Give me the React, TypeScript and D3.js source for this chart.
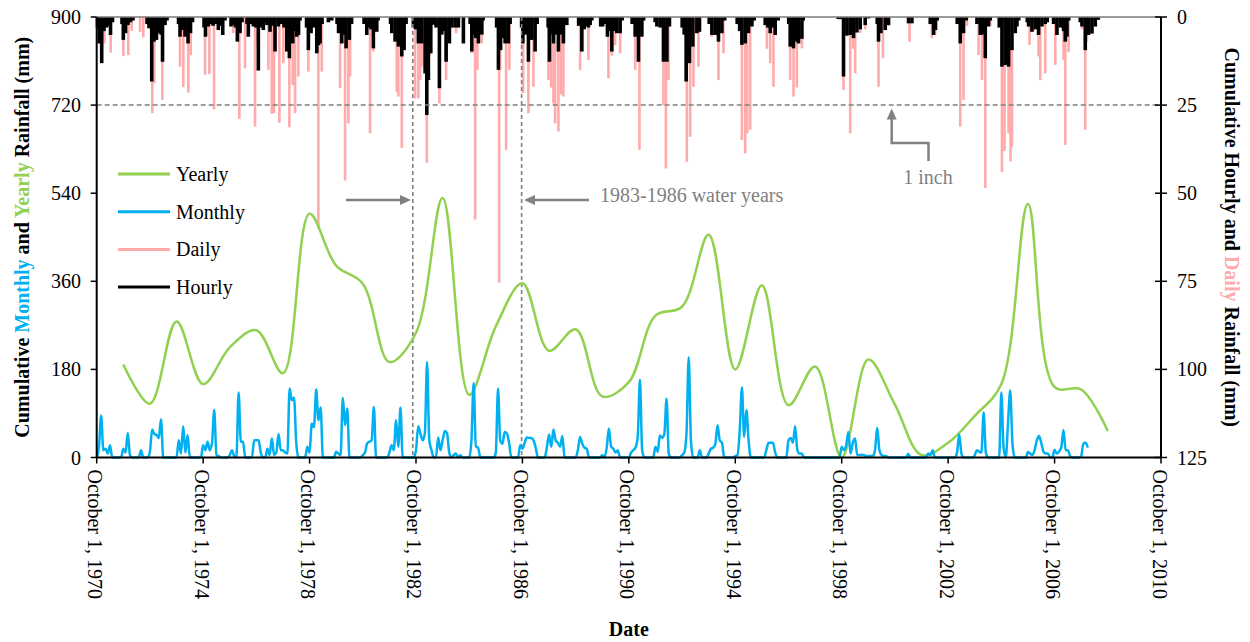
import React from 'react';
import * as d3 from 'd3';

// ---------- DATA ----------
// time unit: years since October 1, 1970 (water-year start)
const xTickYears = [1970, 1974, 1978, 1982, 1986, 1990, 1994, 1998, 2002, 2006, 2010];
const leftTicks = [0, 180, 360, 540, 720, 900];
const rightTicks = [0, 25, 50, 75, 100, 125];

// Yearly cumulative rainfall (mm), plotted at October 1 closing each water year
const yearlyYears = [1971, 1972, 1973, 1974, 1975, 1976, 1977, 1978, 1979, 1980, 1981, 1982, 1983, 1984, 1985, 1986, 1987, 1988, 1989, 1990, 1991, 1992, 1993, 1994, 1995, 1996, 1997, 1998, 1999, 2000, 2001, 2002, 2003, 2004, 2005, 2006, 2007, 2008];
const yearlyValues = [190, 110, 278, 150, 225, 260, 172, 498, 392, 355, 195, 255, 530, 128, 268, 356, 218, 262, 125, 154, 290, 308, 455, 180, 352, 107, 186, 0, 200, 108, 5, 30, 85, 150, 518, 144, 139, 54];

// Monthly cumulative rainfall (mm), Oct..Sep of each water year, starting WY1971
const monthlyStartWY = 1971;
const monthlyByWY = [
  [0, 20, 86, 15, 18, 8, 25, 0, 0, 0, 0, 0],
  [18, 10, 50, 5, 0, 0, 0, 0, 15, 0, 0, 0],
  [12, 57, 48, 46, 40, 78, 0, 0, 0, 0, 0, 0],
  [0, 35, 8, 64, 10, 46, 0, 0, 0, 0, 0, 0],
  [25, 15, 32, 15, 30, 97, 5, 3, 0, 0, 0, 0],
  [5, 15, 3, 0, 133, 32, 32, 0, 0, 0, 0, 35],
  [35, 35, 10, 0, 0, 18, 5, 39, 5, 10, 48, 15],
  [15, 10, 8, 141, 117, 122, 30, 0, 0, 0, 0, 22],
  [10, 69, 62, 139, 76, 102, 0, 0, 0, 0, 0, 0],
  [12, 8, 5, 122, 66, 100, 0, 0, 0, 0, 0, 0],
  [5, 10, 29, 32, 35, 103, 0, 0, 0, 0, 0, 0],
  [10, 25, 15, 76, 22, 102, 0, 0, 0, 0, 0, 0],
  [15, 64, 49, 35, 50, 195, 35, 15, 0, 0, 41, 15],
  [35, 54, 50, 10, 0, 5, 8, 0, 5, 0, 0, 0],
  [0, 35, 152, 23, 20, 0, 0, 0, 0, 0, 0, 0],
  [10, 141, 35, 28, 52, 49, 30, 0, 0, 0, 0, 25],
  [18, 30, 41, 40, 40, 35, 20, 0, 0, 0, 0, 20],
  [47, 22, 57, 35, 30, 22, 44, 0, 0, 0, 0, 0],
  [0, 15, 42, 28, 20, 18, 0, 0, 0, 0, 0, 0],
  [5, 0, 20, 59, 22, 18, 10, 15, 0, 0, 0, 0],
  [0, 10, 15, 20, 42, 159, 15, 0, 0, 0, 0, 0],
  [22, 12, 45, 40, 48, 120, 8, 0, 0, 0, 0, 0],
  [5, 10, 50, 205, 35, 0, 0, 0, 15, 0, 0, 0],
  [8, 18, 20, 28, 66, 35, 30, 0, 0, 0, 0, 0],
  [3, 5, 55, 143, 42, 97, 35, 0, 0, 0, 0, 0],
  [0, 0, 15, 30, 30, 30, 10, 0, 0, 0, 0, 0],
  [35, 40, 30, 64, 15, 8, 8, 0, 0, 0, 0, 0],
  [0, 0, 0, 0, 0, 0, 0, 0, 0, 0, 0, 0],
  [22, 15, 25, 52, 8, 30, 39, 5, 5, 5, 5, 3],
  [3, 3, 3, 15, 61, 15, 5, 3, 3, 0, 0, 0],
  [0, 0, 0, 0, 0, 0, 7, 0, 0, 0, 0, 0],
  [0, 0, 0, 8, 5, 15, 0, 0, 0, 0, 0, 0],
  [0, 0, 0, 0, 10, 47, 8, 0, 0, 0, 0, 0],
  [5, 15, 12, 10, 92, 10, 0, 0, 0, 0, 0, 0],
  [133, 20, 0, 70, 137, 30, 0, 0, 0, 0, 0, 0],
  [11, 8, 5, 15, 35, 44, 30, 12, 8, 8, 0, 0],
  [16, 8, 12, 20, 56, 15, 15, 3, 0, 0, 0, 0],
  [3, 28, 30, 20],
];

// Daily rainfall events: [years since Oct 1 1970, mm]
const dailyRain: [number, number][] = [
  [0.124, 7.5], [0.286, 7.5], [0.526, 10.1], [1.0, 11.1], [1.188, 10.8], [1.316, 3.9], [1.628, 4.2], [1.752, 5.8],
  [2.09, 27.3], [2.165, 18.8], [2.466, 23.5], [3.132, 14.1], [3.256, 19.9], [3.444, 21.5], [3.534, 10.8],
  [4.071, 16.4], [4.233, 16.2], [4.41, 26.2], [5.135, 4.6], [5.361, 28.9], [5.575, 14.6], [5.951, 31.1], [6.015, 8.4],
  [6.451, 15], [6.579, 27.5], [6.665, 27.3], [6.865, 30], [7.015, 13.1], [7.241, 31.3], [7.368, 19.3], [7.455, 27.3], [7.579, 16.9],
  [7.955, 15.5], [8.331, 59.9], [8.459, 15.5], [9.147, 20.2], [9.335, 46.4], [9.459, 30.2], [9.523, 16.9],
  [10.274, 33], [10.398, 9.8], [11.278, 21.2], [11.338, 22.6], [11.466, 37.2],
  [11.966, 23.1], [12.09, 23.1], [12.154, 17.9], [12.218, 14.1], [12.406, 41.4], [12.53, 10.8], [12.88, 24.5], [13.008, 3.7], [13.132, 17.9], [13.508, 4.6],
  [14.098, 10.3], [14.222, 57.5], [14.308, 15], [14.474, 7.5], [15.124, 75.4], [15.162, 15], [15.387, 37.7], [15.511, 15],
  [16.026, 21.6], [16.226, 27.3], [16.414, 19.8], [16.977, 17.9], [17.079, 20], [17.165, 24.5], [17.229, 30.2], [17.353, 32.5], [17.455, 22], [17.541, 22.6],
  [18.169, 15], [18.481, 12.2], [19.233, 17.4], [19.361, 11], [19.485, 8], [19.673, 10.3], [20.237, 15], [20.398, 37.7],
  [21.301, 25], [21.391, 43], [21.489, 17.9], [22.18, 41.1], [22.305, 34], [22.429, 19.8], [22.617, 14.1],
  [23.12, 5.6], [23.368, 17.9], [23.556, 10.3], [24.248, 34.9], [24.372, 38.7], [24.447, 33], [24.56, 32],
  [25.188, 9], [25.312, 13.1], [25.436, 19.8], [26.064, 17.9], [26.188, 22.6], [26.316, 20], [26.504, 8.9],
  [28.068, 20.7], [28.32, 33], [28.421, 9], [28.508, 16], [28.696, 4.5], [28.884, 3.5], [29.383, 19.8], [29.549, 11.7], [29.759, 2.5],
  [30.549, 7], [31.391, 6], [31.515, 5], [32.455, 31.1], [32.579, 23.5], [32.707, 2.5], [33.143, 10.8], [33.271, 17.9], [33.395, 48.5], [33.583, 2.5],
  [34.023, 44], [34.12, 38], [34.271, 33], [34.346, 41], [34.398, 36.8], [35.06, 7.9], [35.211, 4], [35.398, 11.2], [35.462, 17.9], [35.65, 16],
  [36.026, 13.6], [36.338, 12.2], [36.402, 36.3], [36.526, 10], [37.03, 3.5], [37.154, 32], [37.218, 7],
];

// Hourly rainfall events: [years since Oct 1 1970, mm]
const hourlyRain: [number, number][] = [
  [0.03, 3], [0.098, 7.5], [0.188, 13.1], [0.274, 4], [0.368, 3], [0.462, 2.5], [0.519, 5.1], [0.594, 1.5],
  [0.951, 2], [1.0, 6.5], [1.083, 4.6], [1.177, 2.3], [1.271, 1.5], [1.365, 1],
  [1.891, 2], [1.966, 3.2], [2.068, 18.3], [2.154, 7], [2.248, 6.5], [2.342, 4.6], [2.417, 5], [2.474, 12.7], [2.568, 2.3], [2.643, 1],
  [3.075, 2], [3.132, 5.6], [3.233, 3.7], [3.32, 5.6], [3.432, 7.5], [3.526, 4.6], [3.602, 1.5],
  [4.034, 3], [4.09, 5.6], [4.195, 2.7], [4.297, 2], [4.372, 2.5], [4.485, 2], [4.571, 3.7], [4.654, 2.5], [4.737, 5.1], [4.823, 1],
  [5.049, 2.7], [5.143, 2.3], [5.218, 3], [5.286, 7], [5.387, 4.6], [5.462, 1.5],
  [5.65, 2], [5.699, 5.6], [5.801, 2], [5.887, 2.7], [5.989, 3], [6.075, 15.2], [6.177, 3], [6.263, 3.7], [6.346, 1.5],
  [6.402, 2.3], [6.515, 4.2], [6.609, 2.5], [6.703, 9.8], [6.827, 2.7], [6.929, 2], [7.041, 3], [7.143, 9.8], [7.241, 11.7], [7.368, 7.5], [7.455, 4], [7.519, 5.6], [7.586, 5.1], [7.643, 1],
  [7.887, 3], [7.955, 9.4], [8.056, 4.6], [8.15, 3], [8.271, 10.3], [8.338, 8], [8.395, 7.5], [8.47, 2],
  [8.707, 1.5], [8.835, 1],
  [9.034, 2], [9.09, 4.6], [9.211, 7.5], [9.297, 5], [9.372, 8.9], [9.496, 6.5], [9.579, 2],
  [10.049, 2], [10.15, 5.1], [10.256, 3], [10.312, 3.5], [10.398, 8.9], [10.526, 4.2], [10.575, 1],
  [11.045, 2], [11.09, 4.6], [11.214, 7], [11.338, 8.4], [11.466, 11.2], [11.553, 9.4], [11.628, 2],
  [11.902, 3], [11.985, 3.5], [12.09, 7.5], [12.218, 7.5], [12.342, 16], [12.406, 27.8], [12.466, 17.9], [12.556, 10.3], [12.654, 2.2], [12.756, 3], [12.88, 20.2], [12.97, 5], [13.056, 4], [13.132, 12.7], [13.256, 7.5], [13.346, 3],
  [13.47, 3], [13.594, 3], [13.782, 7.5],
  [14.034, 2], [14.098, 9.8], [14.184, 5], [14.241, 6], [14.346, 7.5], [14.474, 5], [14.523, 1],
  [15.03, 3], [15.098, 15], [15.18, 9.4], [15.274, 6], [15.35, 7.5], [15.474, 7.5], [15.538, 2],
  [15.97, 3], [16.015, 7.5], [16.12, 5], [16.226, 12.7], [16.353, 6.5], [16.477, 9.8], [16.553, 2],
  [16.966, 3], [17.015, 12.7], [17.098, 5], [17.165, 7.5], [17.267, 5], [17.353, 9.8], [17.455, 5], [17.541, 7.5], [17.669, 2.3],
  [18.113, 2.5], [18.233, 9.8], [18.32, 3.5], [18.357, 2.7], [18.481, 3], [18.545, 2.3], [18.609, 1],
  [18.94, 2.7], [19.015, 2.7],
  [19.128, 2], [19.195, 5.6], [19.278, 4], [19.361, 9.8], [19.447, 4], [19.549, 4.6], [19.673, 4.6], [19.748, 1],
  [20.124, 2], [20.237, 5.6], [20.361, 12.7], [20.489, 5.6], [20.556, 1],
  [20.989, 1.5], [21.053, 2.7], [21.177, 3], [21.301, 12.7], [21.429, 12.7], [21.526, 2.7],
  [22.004, 3], [22.079, 5], [22.154, 18.3], [22.278, 13.1], [22.406, 8.4], [22.556, 4.6], [22.654, 4.2],
  [23.019, 2], [23.12, 5.1], [23.244, 5.1], [23.368, 7], [23.496, 4.6], [23.602, 1],
  [24.071, 2], [24.165, 4], [24.248, 7.9], [24.372, 7.5], [24.496, 4.6], [24.624, 2.7], [24.71, 1],
  [25.124, 2.3], [25.218, 3], [25.312, 4.6], [25.406, 3], [25.5, 5.1], [25.613, 1],
  [26.008, 2], [26.064, 8.4], [26.188, 8.9], [26.29, 7], [26.376, 7.5], [26.504, 6.2], [26.553, 1],
  [27.869, 0.6], [27.962, 0.6],
  [28.068, 16.9], [28.195, 5.3], [28.32, 5.1], [28.444, 6], [28.571, 4.4], [28.695, 3.5], [28.883, 2.3], [29.008, 0.4],
  [29.335, 2], [29.383, 7], [29.474, 4.6], [29.635, 3.7], [29.759, 2.3],
  [30.511, 1.8], [30.639, 1.8],
  [31.327, 2], [31.451, 5.1], [31.526, 3.7], [31.59, 1],
  [32.342, 2], [32.455, 7.5], [32.579, 4.6], [32.68, 1],
  [33.083, 2], [33.207, 5.1], [33.32, 5], [33.395, 11.7], [33.519, 2.7], [33.583, 1],
  [33.921, 3], [34.023, 14.1], [34.147, 13.6], [34.271, 14.1], [34.398, 9.4], [34.523, 4.6], [34.586, 2.7], [34.654, 1],
  [34.974, 1.5], [35.023, 2.7], [35.15, 4.2], [35.274, 3.5], [35.398, 5.1], [35.526, 2.7], [35.65, 2], [35.726, 1.5],
  [35.962, 2], [36.09, 5.1], [36.214, 3], [36.338, 4], [36.402, 7], [36.466, 5.6], [36.534, 1],
  [36.966, 1.5], [37.03, 2.7], [37.154, 9.4], [37.278, 5.1], [37.406, 4.7], [37.53, 2.7], [37.643, 0.8],
];

// Reference lines / annotations (data units)
const oneInchMm = 25;
const waterYearBounds = [11.88, 15.97];

// ---------- STYLE ----------
const FONT = "'Liberation Serif', 'Times New Roman', serif";
const C_YEAR = '#92D050';
const C_MONTH = '#00B0F0';
const C_DAY = '#FFABAB';
const C_HOUR = '#000000';
const C_GRAY = '#808080';

export default function App() {
  const W = 1250, H = 642;
  const L = 96.7, R = 1161, T = 17, B = 457.5;
  const x = d3.scaleLinear().domain([0, 40]).range([L, R]);
  const yL = d3.scaleLinear().domain([0, 900]).range([B, T]);
  const yR = d3.scaleLinear().domain([0, 125]).range([T, B]);

  const monthlyPts: [number, number][] = [];
  monthlyByWY.forEach((arr, i) => {
    arr.forEach((v, k) => {
      monthlyPts.push([(monthlyStartWY - 1971 + i) + k / 12, v]);
    });
  });
  const yearlyPts: [number, number][] = yearlyYears.map((yr, i) => [yr - 1970, yearlyValues[i]]);

  const monthlyLine = d3.line<[number, number]>().x(d => x(d[0])).y(d => yL(d[1])).curve(d3.curveMonotoneX);
  const yearlyLine = d3.line<[number, number]>().x(d => x(d[0])).y(d => yL(d[1])).curve(d3.curveCatmullRom.alpha(0.5));

  const fs = 20;
  const legendItems = [
    { label: 'Yearly', color: C_YEAR },
    { label: 'Monthly', color: C_MONTH },
    { label: 'Daily', color: C_DAY },
    { label: 'Hourly', color: C_HOUR },
  ];

  const arrowHead = (tipX: number, tipY: number, dir: 'left' | 'right' | 'up') => {
    const len = 11, half = 5;
    let pts: number[][] = [];
    if (dir === 'right') pts = [[tipX, tipY], [tipX - len, tipY - half], [tipX - len, tipY + half]];
    if (dir === 'left') pts = [[tipX, tipY], [tipX + len, tipY - half], [tipX + len, tipY + half]];
    if (dir === 'up') pts = [[tipX, tipY], [tipX - half, tipY + len], [tipX + half, tipY + len]];
    return <polygon points={pts.map(p => p.join(',')).join(' ')} fill={C_GRAY} />;
  };

  const hLineY = yR(oneInchMm);

  return (
    <svg width={W} height={H} style={{ position: 'absolute', left: 0, top: 0, background: '#fff' }} fontFamily={FONT}>
      <rect x={0} y={0} width={W} height={H} fill="#fff" />

      {/* daily bars */}
      <g>
        {dailyRain.map((d, i) => (
          <rect key={'d' + i} x={x(d[0]) - 1.3} y={T} width={2.6} height={yR(d[1]) - T} fill={C_DAY} />
        ))}
      </g>
      {/* hourly bars */}
      <g>
        {hourlyRain.map((d, i) => (
          <rect key={'h' + i} x={x(d[0]) - 1.8} y={T} width={3.6} height={yR(d[1]) - T} fill={C_HOUR} />
        ))}
      </g>

      {/* reference lines */}
      <line x1={L} x2={R} y1={hLineY} y2={hLineY} stroke={C_GRAY} strokeWidth={1.5} strokeDasharray="5,3" />
      {waterYearBounds.map((t, i) => (
        <line key={'v' + i} x1={x(t)} x2={x(t)} y1={T} y2={B} stroke={C_GRAY} strokeWidth={1.6} strokeDasharray="4,3" />
      ))}

      {/* lines */}
      <path d={yearlyLine(yearlyPts) || ''} fill="none" stroke={C_YEAR} strokeWidth={2.5} />
      <path d={monthlyLine(monthlyPts) || ''} fill="none" stroke={C_MONTH} strokeWidth={2.5} />

      {/* top line */}
      <line x1={L} x2={R} y1={T} y2={T} stroke="#7a7a7a" strokeWidth={1.5} />

      {/* axes */}
      <line x1={L} x2={L} y1={T} y2={B} stroke="#000" strokeWidth={2} />
      <line x1={R} x2={R} y1={T} y2={B} stroke="#000" strokeWidth={2} />
      <line x1={L} x2={R} y1={B} y2={B} stroke="#000" strokeWidth={2} />

      {leftTicks.map(v => (
        <g key={'lt' + v}>
          <line x1={L - 6} x2={L} y1={yL(v)} y2={yL(v)} stroke="#000" strokeWidth={1.5} />
          <text x={81} y={yL(v)} dy="0.35em" textAnchor="end" fontSize={fs}>{v}</text>
        </g>
      ))}
      {rightTicks.map(v => (
        <g key={'rt' + v}>
          <line x1={R - 6} x2={R + 6} y1={yR(v)} y2={yR(v)} stroke="#000" strokeWidth={1.5} />
          <text x={1177} y={yR(v)} dy="0.35em" textAnchor="start" fontSize={fs}>{v}</text>
        </g>
      ))}
      {xTickYears.map(yr => {
        const px = x(yr - 1970);
        return (
          <g key={'xt' + yr}>
            <line x1={px} x2={px} y1={B} y2={B + 6} stroke="#000" strokeWidth={1.5} />
            <text transform={`translate(${px - 1.5},${B + 12}) rotate(90)`} dy="0.35em" textAnchor="start" fontSize={fs}>
              {`October 1, ${yr}`}
            </text>
          </g>
        );
      })}

      {/* axis titles */}
      <text x={(L + R) / 2} y={636} textAnchor="middle" fontSize={fs} fontWeight="bold">Date</text>
      <text transform={`translate(22,${(T + B) / 2}) rotate(-90)`} textAnchor="middle" dy="0.35em" fontSize={fs} fontWeight="bold">
        <tspan fill="#000">Cumulative </tspan>
        <tspan fill={C_MONTH}>Monthly</tspan>
        <tspan fill="#000"> and </tspan>
        <tspan fill={C_YEAR}>Yearly</tspan>
        <tspan fill="#000"> Rainfall (mm)</tspan>
      </text>
      <text transform={`translate(1232,${(T + B) / 2}) rotate(90)`} textAnchor="middle" dy="0.35em" fontSize={fs} fontWeight="bold">
        <tspan fill="#000">Cumulative Hourly and </tspan>
        <tspan fill={C_DAY}>Daily</tspan>
        <tspan fill="#000"> Rainfall (mm)</tspan>
      </text>

      {/* legend */}
      {legendItems.map((it, i) => {
        const ly = 174 + i * 37.7;
        return (
          <g key={'lg' + i}>
            <line x1={118} x2={170} y1={ly} y2={ly} stroke={it.color} strokeWidth={3} />
            <text x={176} y={ly} dy="0.35em" fontSize={fs}>{it.label}</text>
          </g>
        );
      })}

      {/* water-year annotation */}
      <line x1={346} y1={200} x2={402} y2={200} stroke={C_GRAY} strokeWidth={2.5} />
      {arrowHead(411, 200, 'right')}
      <line x1={533} y1={200} x2={589} y2={200} stroke={C_GRAY} strokeWidth={2.5} />
      {arrowHead(524, 200, 'left')}
      <text x={600} y={202} fontSize={fs} fill={C_GRAY}>1983-1986 water years</text>

      {/* 1 inch annotation */}
      <polyline points="928.5,161 928.5,143 891.7,143 891.7,118" fill="none" stroke={C_GRAY} strokeWidth={2.5} />
      {arrowHead(891.7, 108.5, 'up')}
      <text x={928} y={184} fontSize={fs} fill={C_GRAY} textAnchor="middle">1 inch</text>
    </svg>
  );
}
